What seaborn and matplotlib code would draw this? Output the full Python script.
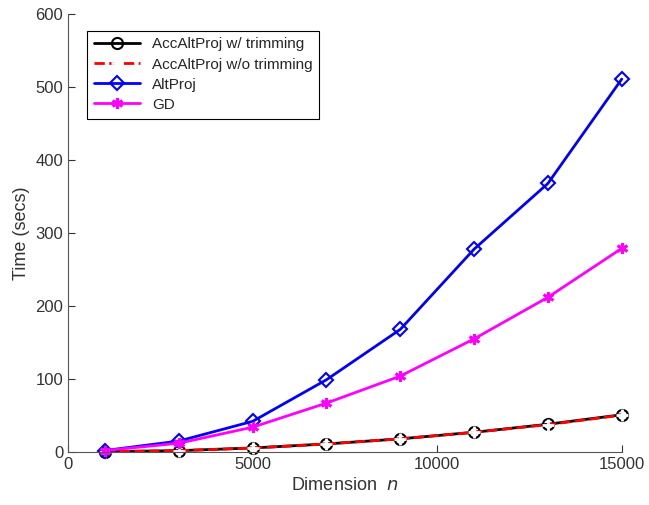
import matplotlib
matplotlib.use("Agg")
import matplotlib.pyplot as plt
import seaborn as sns

sns.set_style("ticks")
plt.rcParams['font.family'] = ['Liberation Sans', 'DejaVu Sans']

# data
dims = [1000, 3000, 5000, 7000, 9000, 11000, 13000, 15000]
acc_trim = [0.5, 1.8, 5.5, 11, 18, 27, 38, 51]
acc_notrim = [0.5, 1.8, 5.4, 11, 18, 27, 37.5, 50.5]
altproj = [2, 15, 42, 99, 168, 278, 368, 511]
gd = [2, 12, 34, 67, 104, 155, 212, 279]

fig = plt.figure(figsize=(6.49, 5.05), dpi=100)
ax = fig.add_axes([0.105, 0.105, 0.853, 0.867])

sns.lineplot(x=dims, y=acc_trim, ax=ax, color='black', lw=2, marker='o', ms=8,
             mfc='none', mec='black', mew=1.5, label='AccAltProj w/ trimming', clip_on=False)
sns.lineplot(x=dims, y=acc_notrim, ax=ax, color='red', lw=2, ls='--', marker='+', ms=9,
             mew=2, label='AccAltProj w/o trimming', clip_on=False)
sns.lineplot(x=dims, y=altproj, ax=ax, color='blue', lw=2, marker='D', ms=7,
             mfc='none', mec='blue', mew=1.5, label='AltProj', clip_on=False)
sns.lineplot(x=dims, y=gd, ax=ax, color='magenta', lw=2, marker=(6, 2, 0), ms=8,
             mew=2, mec='magenta', label='GD', clip_on=False)

ax.set_xlim(0, 15000)
ax.set_ylim(0, 600)
ax.set_xticks([0, 5000, 10000, 15000])
ax.set_yticks(range(0, 601, 100))
ax.set_xlabel('Dimension  $n$', fontsize=13, color='#333333')
ax.set_ylabel('Time (secs)', fontsize=13, color='#333333')
ax.tick_params(direction='in', labelsize=12, colors='#333333', length=5)
for s in ['top', 'right']:
    ax.spines[s].set_visible(False)
for s in ['left', 'bottom']:
    ax.spines[s].set_color('#555555')

leg = ax.legend(loc='upper left', bbox_to_anchor=(0.02, 0.98), fontsize=11,
                frameon=True, fancybox=False, edgecolor='black', framealpha=1,
                handlelength=3, borderpad=0.45, labelspacing=0.4)
leg.get_frame().set_linewidth(0.8)

fig.savefig('out.png', dpi=100)
